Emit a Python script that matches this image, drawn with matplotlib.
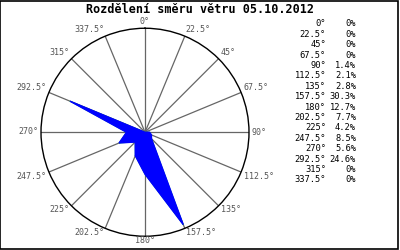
import numpy as np
import matplotlib
matplotlib.use("Agg")
import matplotlib.pyplot as plt

# wind direction distribution
directions = [0, 22.5, 45, 67.5, 90, 112.5, 135, 157.5,
              180, 202.5, 225, 247.5, 270, 292.5, 315, 337.5]
percent = [0, 0, 0, 0, 1.4, 2.1, 2.8, 30.3,
           12.7, 7.7, 4.2, 8.5, 5.6, 24.6, 0, 0]
dir_labels = ["0°", "22.5°", "45°", "67.5°", "90°", "112.5°", "135°", "157.5°",
              "180°", "202.5°", "225°", "247.5°", "270°", "292.5°", "315°", "337.5°"]
title = "Rozdělení směru větru 05.10.2012"

plt.rcParams['font.family'] = ['DejaVu Sans Mono', 'DejaVu Sans']

fig = plt.figure(figsize=(4, 2.5), dpi=100)
ax = fig.add_axes([0.1025, 0.055, 0.52, 0.832], projection='polar')
ax.set_theta_zero_location('N')
ax.set_theta_direction(-1)

theta = np.radians(directions + [directions[0]])
r = percent + [percent[0]]
ax.fill(theta, r, color='#0000ff', zorder=3)
ax.plot(theta, r, color='#00dd00', lw=0.6, zorder=2)

rmax = 31.5
ax.set_ylim(0, rmax)
ax.set_yticks([])
ax.set_thetagrids(directions, [''] * len(directions))
ax.tick_params(axis='x', length=0)
ax.xaxis.grid(True, color='#666666', lw=0.9)
ax.yaxis.grid(False)
ax.spines['polar'].set_color('black')
ax.spines['polar'].set_linewidth(1.0)

# direction labels at the ends of the spokes
for d, lab in zip(directions, dir_labels):
    s, c = np.sin(np.radians(d)), np.cos(np.radians(d))
    ha = 'left' if s > 0.1 else ('right' if s < -0.1 else 'center')
    va = 'bottom' if c > 0.1 else ('top' if c < -0.1 else 'center')
    dx = 2.0 * s
    dy = 1.5 * c if c > 0 else 0.3
    ax.annotate(lab, xy=(np.radians(d), rmax), xytext=(dx, dy),
                textcoords='offset points', ha=ha, va=va, fontsize=6,
                color='#555555', annotation_clip=False)

fig.text(0.5, 0.962, title, ha='center', va='center', fontsize=8.5,
         fontweight='bold')

# legend table on the right
for i, (lab, p) in enumerate(zip(dir_labels, percent)):
    y = 1 - (24 + i * 10.4) / 250
    fig.text(326 / 400, y, lab, ha='right', va='center', fontsize=6.3)
    fig.text(356 / 400, y, "%g%%" % p, ha='right', va='center', fontsize=6.3)

# frame round the image
fig.patches.append(plt.Rectangle((0.001, 0.006), 0.994, 0.992,
                                 transform=fig.transFigure, fill=False,
                                 edgecolor='black', lw=1.2))

fig.savefig('out.png', dpi=100)
